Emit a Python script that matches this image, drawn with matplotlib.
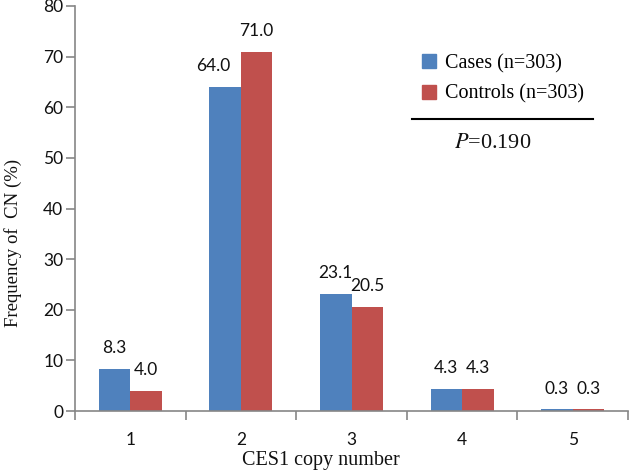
import numpy as np
import matplotlib
matplotlib.use('Agg')
import matplotlib.pyplot as plt
from matplotlib.lines import Line2D
from matplotlib.patches import Patch

# --- datos ---
copy_number = ['1', '2', '3', '4', '5']
cases = [8.3, 64.0, 23.1, 4.3, 0.3]
controls = [4.0, 71.0, 20.5, 4.3, 0.3]
p_value = '0.190'

blue = '#4F81BD'
red = '#C0504D'
spine_col = '#868686'
sans = ['Lato', 'DejaVu Sans']
serif = ['Liberation Serif', 'DejaVu Serif']
txt_col = '#111111'

plt.rcParams['mathtext.fontset'] = 'stix'

fig = plt.figure(figsize=(6.29, 4.72), dpi=100)
W, H = 629, 472
ax = fig.add_axes([75 / W, 1 - 411 / H, 553 / W, 405 / H])

x = np.arange(1, len(copy_number) + 1)
bw = 0.285
b1 = ax.bar(x - bw / 2, cases, bw, color=blue, label='Cases (n=303)')
b2 = ax.bar(x + bw / 2, controls, bw, color=red, label='Controls (n=303)')

# etiquetas de valor (64.0 algo desplazada a la izquierda, como en el original)
for bars, vals in ((b1, cases), (b2, controls)):
    for rect, v in zip(bars, vals):
        dx = -8.5 if v == 64.0 else 0
        ax.annotate(f'{v:.1f}', (rect.get_x() + rect.get_width() / 2, v),
                    xytext=(dx, 11.5), textcoords='offset points',
                    ha='center', va='baseline', fontsize=12.5,
                    family=sans, color=txt_col)

ax.set_xlim(0.5, len(copy_number) + 0.5)
ax.set_ylim(0, 80)
ax.set_yticks(np.arange(0, 81, 10))

ax.set_xticks(np.arange(0.5, len(copy_number) + 1, 1))
ax.set_xticklabels([])
ax.set_xticks(x, minor=True)
ax.set_xticklabels(copy_number, minor=True)
ax.tick_params(axis='x', which='major', direction='out', length=6.5,
               color=spine_col, width=1.2)
ax.tick_params(axis='x', which='minor', length=0, pad=15,
               labelsize=12.5, labelcolor=txt_col)
ax.tick_params(axis='y', direction='out', length=6.5, color=spine_col,
               width=1.2, pad=2, labelsize=12.5, labelcolor=txt_col)
for lab in ax.get_xticklabels(minor=True) + ax.get_yticklabels():
    lab.set_family(sans)

for s in ('top', 'right'):
    ax.spines[s].set_visible(False)
for s in ('left', 'bottom'):
    ax.spines[s].set_color(spine_col)
    ax.spines[s].set_linewidth(1.2)

# títulos de ejes (serif, como Times)
fig.text(13 / W, 1 - 243 / H, 'Frequency of  CN (%)', rotation=90,
         ha='center', va='center', fontsize=13.5, family=serif, color=txt_col)
fig.text(321 / W, 1 - 460 / H, 'CES1 copy number', ha='center', va='center',
         fontsize=14.5, family=serif, color=txt_col)

# leyenda
handles = [Patch(color=blue), Patch(color=red)]
leg = fig.legend(handles, ['Cases (n=303)', 'Controls (n=303)'],
                 loc='upper left', bbox_to_anchor=(412 / W, 1 - 44 / H),
                 frameon=False, handlelength=0.7, handleheight=0.7,
                 handletextpad=0.45, labelspacing=0.55, borderpad=0,
                 prop={'family': serif, 'size': 14.5})

fig.add_artist(Line2D([412 / W, 593 / W], [1 - 119 / H, 1 - 119 / H],
                      color='black', lw=1.5))
fig.text(493 / W, 1 - 143 / H, r'$\it{P}$=' + p_value, ha='center', va='center',
         fontsize=16, family=serif, color=txt_col)

fig.savefig('out.png', dpi=100)
